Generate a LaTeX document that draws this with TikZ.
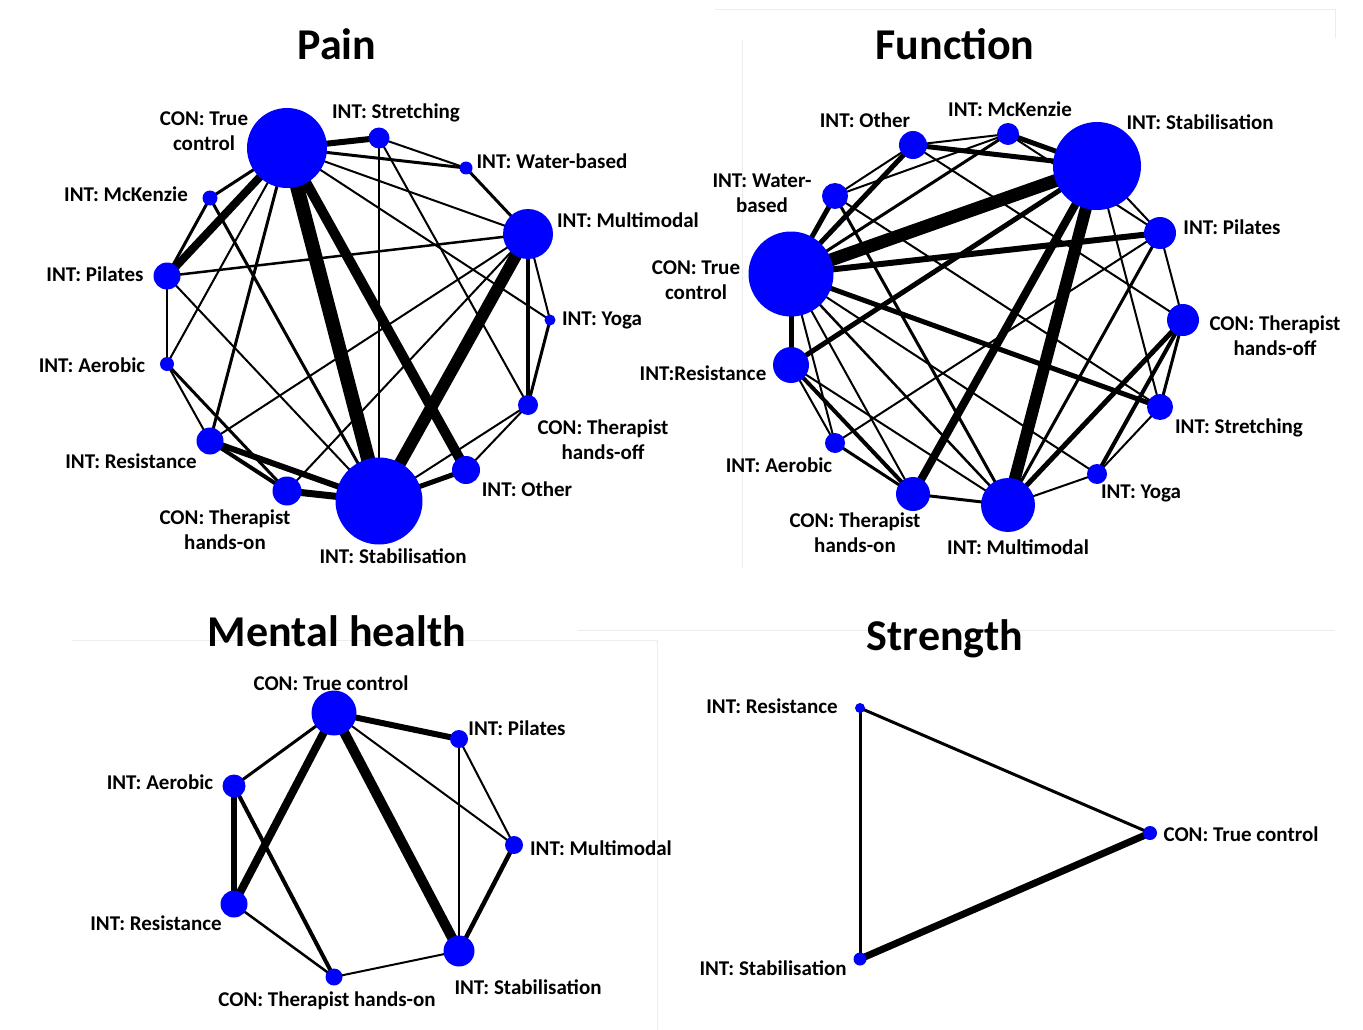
\documentclass[tikz,border=0pt]{standalone}
\usepackage{fontspec}
\setmainfont{Carlito}
\usetikzlibrary{backgrounds}
\tikzset{
  nd/.style={circle, fill=blue, draw=none, inner sep=0pt},
  lab/.style={font=\fontsize{21}{25}\selectfont\bfseries, align=center, inner sep=0pt},
  ttl/.style={font=\fontsize{44}{50}\selectfont\bfseries, inner sep=0pt, anchor=base},
  faint/.style={draw=black!7, line width=1pt},
}
\newcommand\mknode[4]{\node[nd, minimum size=#4pt] (#1) at (#2,#3) {};}
\newcommand\edg[3]{\draw[line width=#3pt] (#1.center) -- (#2.center);}
\begin{document}
\begin{tikzpicture}[x=1pt,y=-1pt]
\useasboundingbox (0,0) rectangle (1363,1030);
\begin{scope}[on background layer]
\fill[white] (0,0) rectangle (1363,1030);
% faint panel borders
\draw[faint] (715,10) -- (1335,10) -- (1335,38);
\draw[faint] (742,40) -- (742,568);
\draw[faint] (578,630) -- (1335,630);
\draw[faint] (657,640) -- (657,1030);
\draw[faint] (72,640) -- (657,640);
\end{scope}

% ---------------- Titles
\node[ttl] (tPain) at (337,60) {Pain};
\node[ttl] (tFunc) at (955,60) {Function};
\node[ttl] (tMent) at (337,646) {Mental health};
\node[ttl] (tStr) at (945,650) {Strength};

% ---------------- Pain nodes
\mknode{pTC}{287}{148}{80}
\mknode{pStr}{379}{138}{21}
\mknode{pWB}{466}{168}{13}
\mknode{pMM}{528}{234}{50}
\mknode{pYog}{550}{320}{11}
\mknode{pTHf}{528}{405}{20}
\mknode{pOth}{466}{470}{28}
\mknode{pSta}{379}{501}{87}
\mknode{pTHn}{287}{491}{29}
\mknode{pRes}{210}{441}{27}
\mknode{pAer}{167}{364}{14}
\mknode{pPil}{167}{276}{27}
\mknode{pMcK}{210}{198}{15}

\begin{scope}[on background layer]
\edg{pTC}{pStr}{6}
\edg{pTC}{pWB}{3}
\edg{pTC}{pMM}{2}
\edg{pTC}{pYog}{2}
\edg{pTC}{pSta}{14}
\edg{pTC}{pOth}{10}
\edg{pTC}{pMcK}{3}
\edg{pTC}{pPil}{8}
\edg{pTC}{pAer}{2}
\edg{pTC}{pRes}{3}
\edg{pStr}{pWB}{2}
\edg{pStr}{pSta}{2.5}
\edg{pStr}{pTHf}{2}
\edg{pWB}{pMM}{3}
\edg{pMM}{pPil}{2.5}
\edg{pMM}{pSta}{12}
\edg{pMM}{pTHf}{4}
\edg{pMM}{pYog}{2}
\edg{pMM}{pRes}{2}
\edg{pMM}{pTHn}{2}
\edg{pYog}{pTHf}{3}
\edg{pTHf}{pSta}{2}
\edg{pTHf}{pOth}{2}
\edg{pOth}{pSta}{5}
\edg{pSta}{pTHn}{7}
\edg{pSta}{pRes}{6}
\edg{pSta}{pMcK}{3}
\edg{pSta}{pPil}{2}
\edg{pTHn}{pRes}{4}
\edg{pTHn}{pAer}{3}
\edg{pRes}{pAer}{2}
\edg{pAer}{pPil}{2}
\edg{pPil}{pMcK}{3}
\end{scope}

\node[lab] (lpTC) at (204,131) {CON: True\\control};
\node[lab] (lpStr) at (396,113) {INT: Stretching};
\node[lab] (lpWB) at (552,161) {INT: Water-based};
\node[lab] (lpMM) at (628,220) {INT: Multimodal};
\node[lab] (lpYog) at (602,320) {INT: Yoga};
\node[lab] (lpTHf) at (603,440) {CON: Therapist\\hands-off};
\node[lab] (lpOth) at (527,489) {INT: Other};
\node[lab] (lpSta) at (393,556) {INT: Stabilisation};
\node[lab] (lpTHn) at (225,530) {CON: Therapist\\hands-on};
\node[lab] (lpRes) at (131,461) {INT: Resistance};
\node[lab] (lpAer) at (92,365) {INT: Aerobic};
\node[lab] (lpPil) at (95,274) {INT: Pilates};
\node[lab] (lpMcK) at (126,194) {INT: McKenzie};

% ---------------- Function nodes
\mknode{fOth}{913}{145}{28}
\mknode{fMcK}{1008}{134}{22}
\mknode{fSta}{1097}{166}{88}
\mknode{fPil}{1160}{233}{32}
\mknode{fTHf}{1183}{320}{32}
\mknode{fStr}{1160}{407}{26}
\mknode{fYog}{1097}{474}{20}
\mknode{fMM}{1008}{505}{54}
\mknode{fTHn}{913}{494}{34}
\mknode{fAer}{835}{443}{20}
\mknode{fRes}{791}{365}{36}
\mknode{fTC}{791}{274}{85}
\mknode{fWB}{835}{196}{26}

\begin{scope}[on background layer]
\edg{fTC}{fWB}{5}
\edg{fTC}{fOth}{5}
\edg{fTC}{fMcK}{3}
\edg{fTC}{fSta}{13}
\edg{fTC}{fPil}{6}
\edg{fTC}{fStr}{5}
\edg{fTC}{fYog}{2}
\edg{fTC}{fMM}{2.5}
\edg{fTC}{fTHn}{2}
\edg{fTC}{fAer}{2}
\edg{fTC}{fRes}{5}
\edg{fWB}{fOth}{2}
\edg{fWB}{fMcK}{2}
\edg{fWB}{fMM}{3}
\edg{fWB}{fStr}{2}
\edg{fOth}{fMcK}{2}
\edg{fOth}{fSta}{5}
\edg{fOth}{fTHf}{2}
\edg{fMcK}{fSta}{5}
\edg{fMcK}{fPil}{2}
\edg{fSta}{fPil}{2}
\edg{fSta}{fMM}{12}
\edg{fSta}{fTHn}{8}
\edg{fSta}{fRes}{5}
\edg{fSta}{fStr}{2}
\edg{fPil}{fTHf}{2}
\edg{fPil}{fMM}{3}
\edg{fPil}{fAer}{2}
\edg{fTHf}{fStr}{3}
\edg{fTHf}{fYog}{4}
\edg{fTHf}{fMM}{5}
\edg{fStr}{fYog}{2}
\edg{fYog}{fMM}{2}
\edg{fMM}{fTHn}{3}
\edg{fMM}{fRes}{2}
\edg{fTHn}{fRes}{4}
\edg{fTHn}{fAer}{3}
\edg{fRes}{fAer}{2}
\end{scope}

\node[lab] (lfOth) at (865,120) {INT: Other};
\node[lab] (lfMcK) at (1010,109) {INT: McKenzie};
\node[lab] (lfSta) at (1200,122) {INT: Stabilisation};
\node[lab] (lfPil) at (1232,227) {INT: Pilates};
\node[lab] (lfTHf) at (1275,336) {CON: Therapist\\hands-off};
\node[lab] (lfStr) at (1239,428) {INT: Stretching};
\node[lab] (lfYog) at (1141,493) {INT: Yoga};
\node[lab] (lfMM) at (1018,547) {INT: Multimodal};
\node[lab] (lfTHn) at (855,533) {CON: Therapist\\hands-on};
\node[lab] (lfAer) at (779,465) {INT: Aerobic};
\node[lab] (lfRes) at (703,373) {INT:Resistance};
\node[lab] (lfTC) at (696,280) {CON: True\\control};
\node[lab] (lfWB) at (762,193) {INT: Water-\\based};

% ---------------- Mental health
\mknode{mTC}{334}{713}{45}
\mknode{mPil}{459}{739}{18}
\mknode{mMM}{514}{845}{18}
\mknode{mSta}{459}{951}{31}
\mknode{mTHn}{334}{977}{17}
\mknode{mRes}{234}{904}{27}
\mknode{mAer}{234}{786}{23}

\begin{scope}[on background layer]
\edg{mTC}{mPil}{6}
\edg{mTC}{mMM}{2}
\edg{mTC}{mSta}{10}
\edg{mTC}{mRes}{8}
\edg{mTC}{mAer}{3}
\edg{mPil}{mMM}{2}
\edg{mPil}{mSta}{2}
\edg{mMM}{mSta}{4.5}
\edg{mSta}{mTHn}{2}
\edg{mTHn}{mAer}{4}
\edg{mAer}{mRes}{6}
\edg{mRes}{mTHn}{2.5}
\end{scope}

\node[lab] (lmTC) at (331,683) {CON: True control};
\node[lab] (lmPil) at (517,728) {INT: Pilates};
\node[lab] (lmMM) at (601,848) {INT: Multimodal};
\node[lab] (lmSta) at (528,987) {INT: Stabilisation};
\node[lab] (lmTHn) at (327,1001) {CON: Therapist hands-on};
\node[lab] (lmRes) at (156,923) {INT: Resistance};
\node[lab] (lmAer) at (160,782) {INT: Aerobic};

% ---------------- Strength
\mknode{sRes}{860}{708}{10}
\mknode{sTC}{1150}{833}{14}
\mknode{sSta}{860}{959}{13}

\begin{scope}[on background layer]
\edg{sRes}{sTC}{3}
\edg{sRes}{sSta}{3}
\edg{sSta}{sTC}{7}
\end{scope}

\node[lab] (lsRes) at (772,706) {INT: Resistance};
\node[lab] (lsTC) at (1241,834) {CON: True control};
\node[lab] (lsSta) at (773,968) {INT: Stabilisation};
\end{tikzpicture}
\end{document}
